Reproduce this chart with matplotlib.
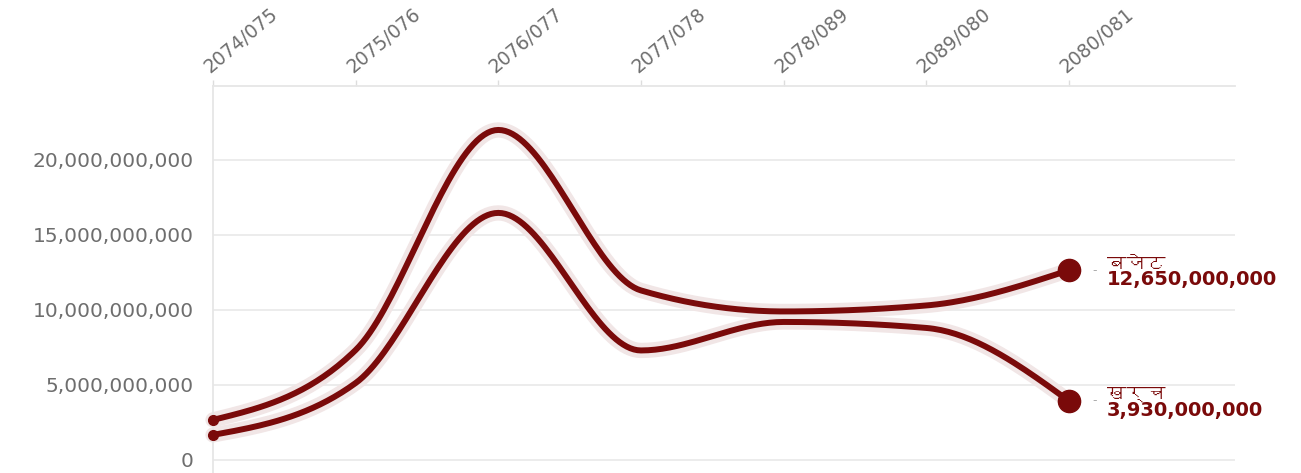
import numpy as np
import matplotlib
matplotlib.use("Agg")
import matplotlib.pyplot as plt
from matplotlib import font_manager as fm, ft2font
from matplotlib.ticker import FuncFormatter

# fiscal years (top axis)
years = ["2074/075", "2075/076", "2076/077", "2077/078", "2078/089", "2089/080", "2080/081"]

# values in rupees
budget = [2.67e9, 7.33e9, 22.0e9, 11.3e9, 9.9e9, 10.3e9, 12.65e9]
spent = [1.67e9, 5.13e9, 16.47e9, 7.3e9, 9.2e9, 8.8e9, 3.93e9]

names = ["बजेट", "खर्च"]
end_labels = ["12,650,000,000", "3,930,000,000"]

line_color = "#7a0a0a"
halo_color = "#f1e6e6"
grid_color = "#ebebeb"
text_gray = "#6e6e6e"

# find a font that has Devanagari glyphs, if any is installed
deva = None
for f in fm.fontManager.ttflist:
    try:
        cmap = ft2font.FT2Font(f.fname).get_charmap()
    except Exception:
        continue
    if 0x092C in cmap and 0x0916 in cmap:
        deva = f.name
        break
name_family = [deva, "DejaVu Sans"] if deva else ["DejaVu Sans"]


def monotone_x(x, y, n=40):
    """d3.curveMonotoneX style smoothing between the data points."""
    x = np.asarray(x, float)
    y = np.asarray(y, float)
    h = np.diff(x)
    s = np.diff(y) / h
    t = np.zeros_like(y)
    for i in range(1, len(y) - 1):
        s0, s1 = s[i - 1], s[i]
        p = (s0 * h[i] + s1 * h[i - 1]) / (h[i - 1] + h[i])
        t[i] = (np.sign(s0) + np.sign(s1)) * min(abs(s0), abs(s1), 0.5 * abs(p))
    t[0] = (3 * s[0] - t[1]) / 2
    t[-1] = (3 * s[-1] - t[-2]) / 2
    xs, ys = [], []
    for i in range(len(x) - 1):
        u = np.linspace(0, 1, n, endpoint=(i == len(x) - 2))
        h00 = 2 * u**3 - 3 * u**2 + 1
        h10 = u**3 - 2 * u**2 + u
        h01 = -2 * u**3 + 3 * u**2
        h11 = u**3 - u**2
        xs.append(x[i] + u * h[i])
        ys.append(h00 * y[i] + h10 * h[i] * t[i] + h01 * y[i + 1] + h11 * h[i] * t[i + 1])
    return np.concatenate(xs), np.concatenate(ys)


fig = plt.figure(figsize=(13.01, 4.73), dpi=100)
ax = fig.add_axes([213 / 1301, 0, 1022 / 1301, 387 / 473])

xpos = np.arange(len(years))
series = [budget, spent]

# halos first, then the lines on top
for vals in series:
    sx, sy = monotone_x(xpos, vals)
    ax.plot(sx, sy, color=halo_color, lw=11, solid_capstyle="round", zorder=2, clip_on=False)
for vals in series:
    sx, sy = monotone_x(xpos, vals)
    ax.plot(sx, sy, color=line_color, lw=4.3, solid_capstyle="round", zorder=3, clip_on=False)
    ax.plot(xpos[0], vals[0], "o", color=line_color, ms=7, zorder=4, clip_on=False)
    ax.plot(xpos[-1], vals[-1], "o", color=line_color, ms=16, zorder=4, clip_on=False)

# end labels
for vals, name, lab in zip(series, names, end_labels):
    ax.annotate("-", (xpos[-1], vals[-1]), xytext=(17, 0), textcoords="offset points",
                ha="left", va="center", color="#aaaaaa", fontsize=9)
    ax.annotate(name, (xpos[-1], vals[-1]), xytext=(27, -1), textcoords="offset points",
                ha="left", va="bottom", color=line_color, fontsize=14, family=name_family)
    ax.annotate(lab, (xpos[-1], vals[-1]), xytext=(27, 0), textcoords="offset points",
                ha="left", va="top", color=line_color, fontsize=14, fontweight="bold")

ax.set_xlim(0, 1022 / 142.67)
ax.set_ylim(-0.87e9, 24.93e9)

ax.set_yticks([0, 5e9, 10e9, 15e9, 20e9])
ax.yaxis.set_major_formatter(FuncFormatter(lambda v, p: f"{v:,.0f}"))
ax.grid(axis="y", color=grid_color, lw=1.3)
ax.set_axisbelow(True)
ax.tick_params(axis="y", length=0, pad=14, labelsize=14.5, labelcolor=text_gray)

ax.xaxis.tick_top()
ax.set_xticks(xpos)
ax.set_xticklabels(years, rotation=40, ha="left", va="bottom", rotation_mode="anchor")
ax.tick_params(axis="x", length=4, width=1, color="#dddddd", pad=3,
               labelsize=13.5, labelcolor=text_gray)

for side in ["bottom", "right"]:
    ax.spines[side].set_visible(False)
ax.spines["top"].set_color("#e6e6e6")
ax.spines["left"].set_color("#e6e6e6")
ax.spines["top"].set_linewidth(1.3)
ax.spines["left"].set_linewidth(1.3)

fig.savefig("out.png", dpi=100)
